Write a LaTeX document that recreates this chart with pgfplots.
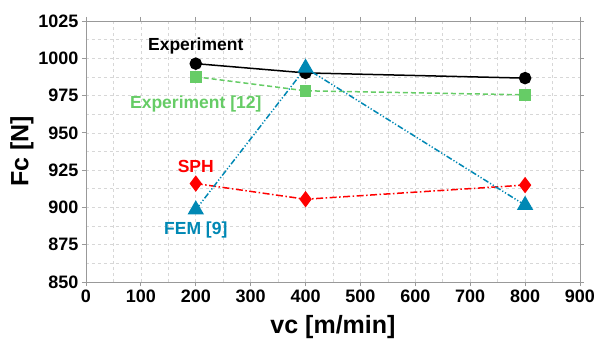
\documentclass[border=0pt]{standalone}
\usepackage{pgfplots}
\pgfplotsset{compat=1.18}
\usepackage{fontspec}
\setmainfont{Liberation Sans}
\definecolor{cgreen}{RGB}{102,204,102}
\definecolor{cteal}{RGB}{0,136,180}
\definecolor{cred}{RGB}{255,0,0}
\definecolor{cgrid}{RGB}{215,215,215}
\begin{document}
\begin{tikzpicture}
\begin{axis}[
  at={(0,0)}, anchor=south west,
  scale only axis, width=494pt, height=261pt,
  xmin=0, xmax=900, ymin=850, ymax=1025,
  xtick={0,100,...,900}, ytick={850,875,...,1025},
  minor x tick num=1, minor y tick num=1,
  grid=both,
  major grid style={cgrid, dashed, line width=0.6pt},
  minor grid style={cgrid, dashed, line width=0.6pt},
  axis line style={gray!80, line width=0.9pt},
  tick align=outside, tick style={gray!80, line width=0.9pt},
  major tick length=4pt, minor tick length=0pt,
  tick label style={font=\fontsize{18}{21}\selectfont\bfseries},
  /pgf/number format/assume math mode=true,
  /pgf/number format/1000 sep={},
  xlabel={vc [m/min]}, ylabel={Fc [N]},
  label style={font=\fontsize{25}{28}\selectfont\bfseries},
  xlabel style={yshift=-6pt},
  ylabel style={yshift=-2pt},
  clip=false,
]
\addplot[black, line width=1.5pt, mark=*, mark size=5.5pt, mark options={solid}] coordinates {(200,996.4) (400,990.2) (800,986.7)};
\addplot[cgreen, line width=1.5pt, dash pattern=on 5pt off 3pt, mark=square*, mark size=5pt, mark options={solid}] coordinates {(200,987.6) (400,978.2) (800,975.5)};
\addplot[cred, line width=1.5pt, dash pattern=on 7pt off 2.5pt on 1.5pt off 2.5pt, mark=diamond*, mark size=7pt, mark options={solid}] coordinates {(200,916.0) (400,905.5) (800,915.0)};
\addplot[cteal, line width=1.5pt, dash pattern=on 6pt off 2pt on 1.2pt off 2pt on 1.2pt off 2pt, mark=triangle*, mark size=8pt, mark options={solid}] coordinates {(200,898.5) (400,993.5) (800,901.5)};
\node[font=\fontsize{17.5}{20}\selectfont\bfseries, black] at (axis cs:200,1008.5) {Experiment};
\node[font=\fontsize{17.5}{20}\selectfont\bfseries, cgreen] at (axis cs:200,969.5) {Experiment [12]};
\node[font=\fontsize{17.5}{20}\selectfont\bfseries, cred] at (axis cs:200,927.5) {SPH};
\node[font=\fontsize{17.5}{20}\selectfont\bfseries, cteal] at (axis cs:200,885) {FEM [9]};
\end{axis}
\pgfresetboundingbox
\path[use as bounding box] (-86pt,-58pt) rectangle (509pt,282pt);
\end{tikzpicture}
\end{document}
